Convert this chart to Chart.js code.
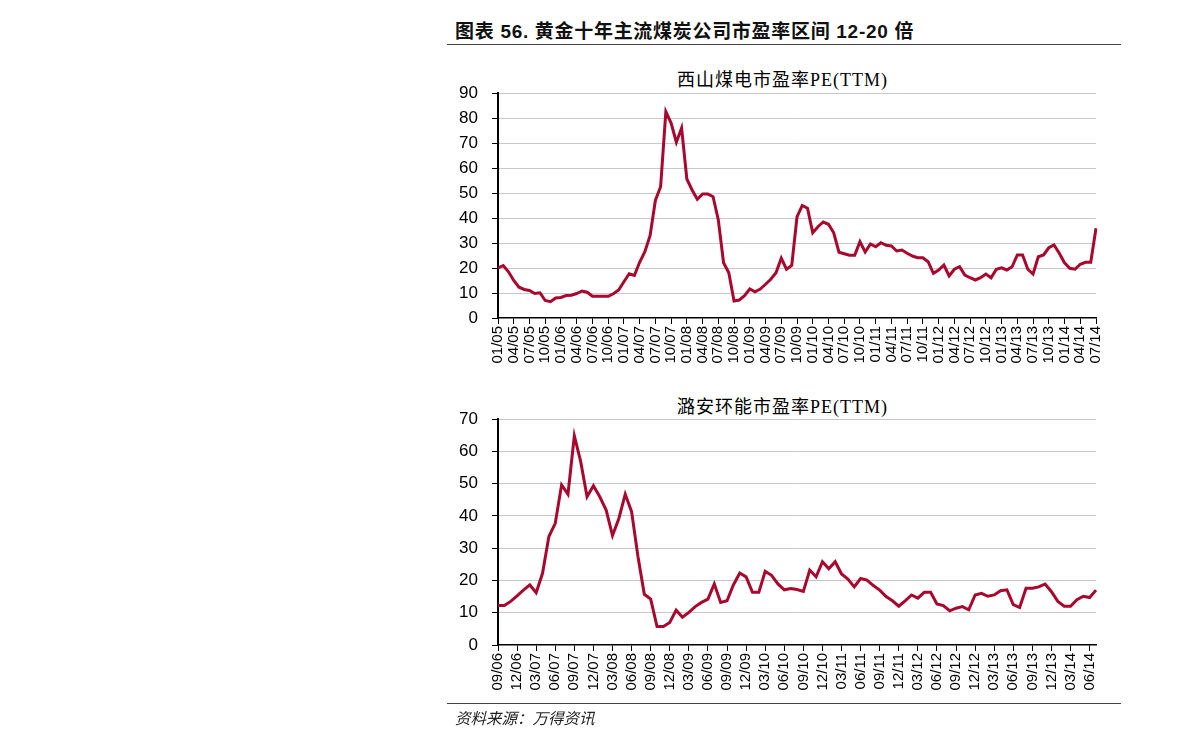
<!DOCTYPE html>
<html>
<head>
<meta charset="utf-8">
<script src="https://cdn.jsdelivr.net/npm/chart.js@4.4.1/dist/chart.umd.min.js"></script>
<style>
  body { margin:0; background:#fff; width:1191px; height:747px; position:relative; overflow:hidden; }
  .abs { position:absolute; white-space:nowrap; }
  #hdr { left:455px; top:16px; font-weight:bold; font-size:19px; letter-spacing:0.7px; font-family:'Liberation Sans','Noto Sans CJK SC',sans-serif; color:#111; }
  .rule { position:absolute; left:447px; width:674px; height:0; border-top:1.5px solid #444; }
  .ctitle { font-size:18px; font-family:'Liberation Serif','Noto Sans CJK SC',serif; color:#000; letter-spacing:1px; }
  #src { left:455px; top:706px; font-size:15.5px; font-style:italic; font-family:'Noto Sans CJK SC',sans-serif; color:#222; }
  canvas { position:absolute; }
</style>
</head>
<body>
<div id="hdr" class="abs">图表 56. 黄金十年主流煤炭公司市盈率区间 12-20 倍</div>
<div class="rule" style="top:44px"></div>
<div class="abs ctitle" style="left:677px;top:65px">西山煤电市盈率PE(TTM)</div>
<div class="abs ctitle" style="left:677px;top:392px">潞安环能市盈率PE(TTM)</div>
<canvas id="c1" width="676" height="312" style="left:440px;top:68px"></canvas>
<canvas id="c2" width="670" height="313" style="left:440px;top:394px"></canvas>
<div class="rule" style="top:703px"></div>
<div id="src" class="abs">资料来源：万得资讯</div>
<script>
// 西山煤电 monthly PE(TTM), 2005/01 - 2014/07
var xishanPE = [20,21,18.5,15,12.3,11.4,11,9.8,10.1,7,
  6.5,8,8.2,9,9.1,9.8,10.8,10.3,8.7,8.7,
  8.7,8.7,9.7,11.2,14.5,17.7,17,22.3,26.5,33,
  47,52.5,82.5,78,70.3,76,55.6,51.2,47.5,49.6,
  49.6,48.5,39.2,22.1,18.1,6.8,7.2,8.9,11.6,10.5,
  11.6,13.5,15.5,18.1,23.9,19.5,21,40.4,45,43.9,
  34.1,36.5,38.4,37.5,34.1,26.3,25.7,25.1,25.1,30.5,
  26.4,29.6,28.5,30.1,29.1,28.8,26.8,27.2,25.9,24.8,
  24.1,24.1,22.5,17.9,19.2,21.2,16.8,19.5,20.5,17.2,
  16.1,15.2,16.1,17.6,16.1,19.5,20.1,19.2,20.5,25.2,
  25.2,19.5,17.6,24.5,25.2,28.1,29.2,25.9,22.1,19.9,
  19.5,21.5,22.3,22.3,35.9];
var xishanTicks = ['01/05','04/05','07/05','10/05','01/06','04/06','07/06','10/06',
  '01/07','04/07','07/07','10/07','01/08','04/08','07/08','10/08',
  '01/09','04/09','07/09','10/09','01/10','04/10','07/10','10/10',
  '01/11','04/11','07/11','10/11','01/12','04/12','07/12','10/12',
  '01/13','04/13','07/13','10/13','01/14','04/14','07/14'];

// 潞安环能 monthly PE(TTM), 2006/09 - 2014/07
var luanPE = [12.2,12.2,13.5,15.2,17,18.6,16.2,22.2,33.6,37.7,
  49.6,46.7,64.8,56.8,45.9,49.3,45.9,41.8,33.9,39.2,
  46.7,41.3,27.4,15.7,14.2,5.7,5.7,7.0,10.8,8.6,
  10.1,11.9,13.2,14.2,18.9,13.2,13.7,18.6,22.3,21.1,
  16.3,16.3,22.8,21.6,18.9,17.1,17.5,17.2,16.6,23.2,
  21.1,25.8,23.6,25.8,22,20.4,18,20.6,20.1,18.4,
  17,15,13.7,12,13.7,15.5,14.5,16.3,16.3,12.7,
  12.2,10.6,11.4,11.9,10.9,15.5,16,15.1,15.5,16.8,
  17.1,12.5,11.6,17.6,17.6,18,18.9,16.5,13.5,12,
  12,14,15.1,14.7,17];
var luanTicks = ['09/06','12/06','03/07','06/07','09/07','12/07','03/08','06/08',
  '09/08','12/08','03/09','06/09','09/09','12/09','03/10','06/10',
  '09/10','12/10','03/11','06/11','09/11','12/11','03/12','06/12',
  '09/12','12/12','03/13','06/13','09/13','12/13','03/14','06/14'];

var lineColor = '#a8072e';
var axisFont = "'Liberation Sans',Arial,sans-serif";
var TOP_PAD = 25, X_AXIS_H = 62;

function monthLabels(year, month, n) {
  var out = [];
  for (var i = 0; i < n; i++) {
    var m = (month - 1 + i) % 12 + 1;
    var y = year + Math.floor((month - 1 + i) / 12);
    out.push((m < 10 ? '0' : '') + m + '/' + String(y % 100).padStart(2, '0'));
  }
  return out;
}

function makeChart(id, cats, values, ticks, yMax) {
  new Chart(document.getElementById(id), {
    type: 'line',
    data: {
      labels: cats,
      datasets: [{ data: values, borderColor: lineColor, borderWidth: 3, pointRadius: 0, tension: 0, fill: false }]
    },
    options: {
      responsive: false,
      animation: false,
      devicePixelRatio: 1,
      layout: { padding: { top: TOP_PAD, right: 14, left: 0, bottom: 0 } },
      plugins: { legend: { display: false }, title: { display: false }, tooltip: { enabled: false } },
      scales: {
        x: {
          offset: false,
          afterFit: function (s) { s.height = X_AXIS_H; },
          grid: { drawOnChartArea: false, drawTicks: true, tickLength: 6, color: '#000' },
          border: { color: '#000', width: 1.5 },
          ticks: {
            autoSkip: false, minRotation: 90, maxRotation: 90, padding: 2,
            color: '#000', font: { family: axisFont, size: 15 },
            callback: function (v, i) { return i % 3 === 0 ? ticks[i / 3] : null; }
          }
        },
        y: {
          min: 0, max: yMax,
          afterFit: function (s) { s.width = 58; },
          grid: {
            color: function (c) { return c.tick && c.tick.value === 0 ? 'rgba(0,0,0,0)' : '#c8c8c8'; },
            tickColor: '#000', tickLength: 6, lineWidth: 1
          },
          border: { color: '#000', width: 2 },
          ticks: { stepSize: 10, autoSkip: false, padding: 14, color: '#000', font: { family: axisFont, size: 17 } }
        }
      }
    }
  });
}

makeChart('c1', monthLabels(2005, 1, xishanPE.length), xishanPE, xishanTicks, 90);
makeChart('c2', monthLabels(2006, 9, luanPE.length), luanPE, luanTicks, 70);
</script>
</body>
</html>
